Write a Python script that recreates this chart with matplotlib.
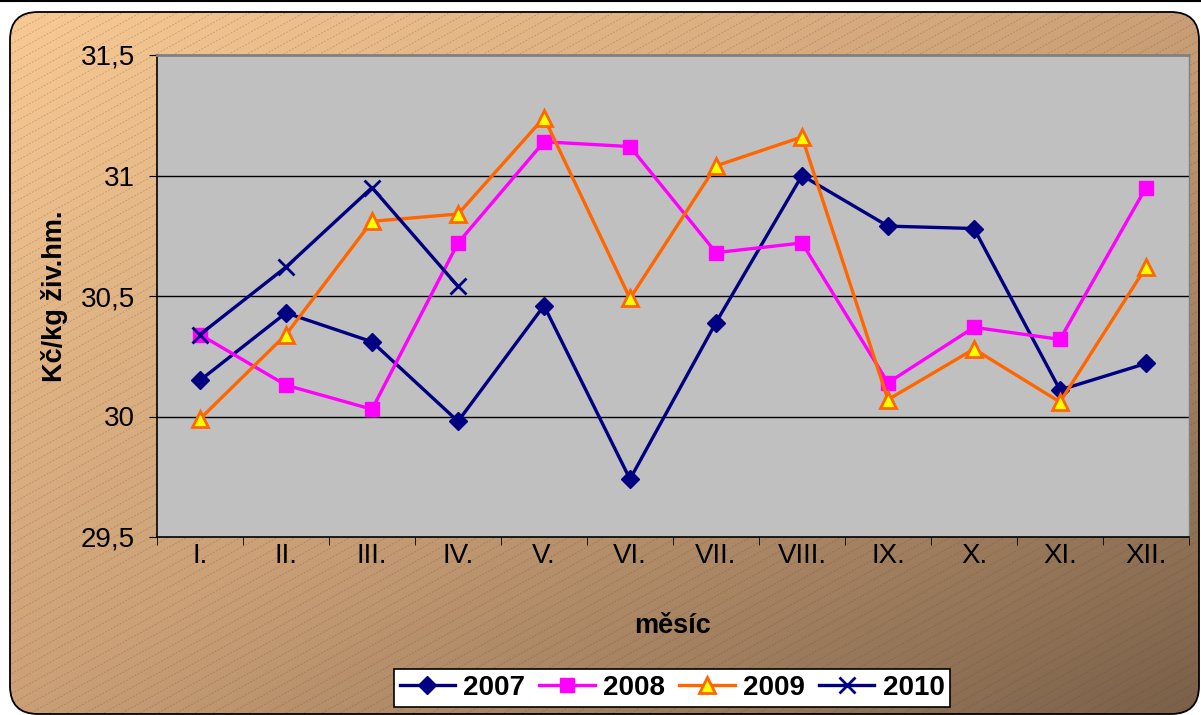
import numpy as np
import matplotlib.pyplot as plt
from matplotlib.patches import FancyBboxPatch
from matplotlib.colors import LinearSegmentedColormap
from matplotlib.collections import LineCollection

plt.rcParams['font.family'] = ['Liberation Sans', 'DejaVu Sans']

months = ['I.', 'II.', 'III.', 'IV.', 'V.', 'VI.', 'VII.', 'VIII.', 'IX.', 'X.', 'XI.', 'XII.']
y2007 = [30.15, 30.43, 30.31, 29.98, 30.46, 29.74, 30.39, 31.00, 30.79, 30.78, 30.11, 30.22]
y2008 = [30.34, 30.13, 30.03, 30.72, 31.14, 31.12, 30.68, 30.72, 30.14, 30.37, 30.32, 30.95]
y2009 = [29.99, 30.34, 30.81, 30.84, 31.24, 30.49, 31.04, 31.16, 30.07, 30.28, 30.06, 30.62]
y2010 = [30.34, 30.62, 30.95, 30.54]
yticks = [29.5, 30, 30.5, 31, 31.5]
ytick_labels = ['29,5', '30', '30,5', '31', '31,5']

W, H = 1201, 715
fig = plt.figure(figsize=(W / 100, H / 100), dpi=100)
fig.patch.set_facecolor('white')

# background: rounded box with diagonal gradient and hatch
bg = fig.add_axes([0, 0, 1, 1])
bg.set_xlim(0, W)
bg.set_ylim(H, 0)
bg.axis('off')
box = FancyBboxPatch((10, 12), 1189, 702, boxstyle='round,pad=0,rounding_size=28',
                     facecolor='none', edgecolor='black', lw=1.3, zorder=3)
bg.add_patch(box)
cmap = LinearSegmentedColormap.from_list('bgc', ['#f9ca94', '#cba077', '#7a6049'])
xx, yy = np.meshgrid(np.linspace(0, 1, 300), np.linspace(0, 1, 200))
im = bg.imshow((xx + yy) / 2, cmap=cmap, extent=[0, W, H, 0], aspect='auto', zorder=1)
im.set_clip_path(box)
segs = []
for c in np.arange(0, H + 0.55 * W + 20, 10):
    segs.append([(0, c), (W, c - 0.55 * W)])
lc = LineCollection(segs, colors=(0.35, 0.25, 0.15, 0.3), linewidths=0.6,
                    linestyles=(0, (2, 2)), zorder=2)
bg.add_collection(lc)
lc.set_clip_path(box)
bg.plot([0, W], [0.5, 0.5], color='black', lw=1.5, zorder=3)

ax = fig.add_axes([157 / W, 1 - 537 / H, 1032 / W, 482 / H])
ax.set_facecolor('#c0c0c0')
x = np.arange(len(months))

ax.plot(x, y2007, color='#000080', lw=2.4, marker='D', ms=9, label='2007', zorder=3)
ax.plot(x, y2008, color='#ff00ff', lw=2.4, marker='s', ms=10, label='2008', zorder=3)
ax.plot(x, y2009, color='#ff6600', lw=2.4, marker='^', ms=11, mfc='#ffff00',
        mec='#ff6600', mew=2, label='2009', zorder=3)
ax.plot(x[:len(y2010)], y2010, color='#000080', lw=2.4, marker='x', ms=12, mew=2,
        label='2010', zorder=4)

ax.set_xlim(-0.5, 11.5)
ax.set_ylim(29.5, 31.5)
ax.set_yticks(yticks)
ax.set_yticklabels(ytick_labels)
ax.set_xticks(x)
ax.set_xticklabels(months)
ax.set_xticks(np.arange(-0.5, 12, 1), minor=True)
ax.tick_params(axis='x', which='major', length=0, pad=4, labelsize=20)
ax.tick_params(axis='x', which='minor', length=6, direction='out', color='black')
ax.tick_params(axis='y', length=6, direction='out', pad=10, labelsize=20)
for v in [30, 30.5, 31]:
    ax.axhline(v, color='black', lw=1, zorder=1)
ax.spines['top'].set_color('#808080')
ax.spines['right'].set_color('#808080')
ax.spines['top'].set_linewidth(2)
ax.spines['right'].set_linewidth(1)
ax.spines['left'].set_linewidth(1.2)
ax.spines['bottom'].set_linewidth(1.2)

ax.set_xlabel('měsíc', fontsize=19.5, fontweight='bold', labelpad=32)
ax.set_ylabel('Kč/kg živ.hm.', fontsize=19.5, fontweight='bold', labelpad=9)

leg = fig.legend(loc='center', bbox_to_anchor=(672 / W, 1 - 688 / H), ncol=4,
                 prop={'weight': 'bold', 'size': 20}, frameon=True, fancybox=False,
                 edgecolor='black', framealpha=1, handlelength=2.0, handletextpad=0.3,
                 columnspacing=0.5, borderpad=0.2, borderaxespad=0)
leg.get_frame().set_linewidth(1.2)

fig.savefig('out.png', dpi=100)
